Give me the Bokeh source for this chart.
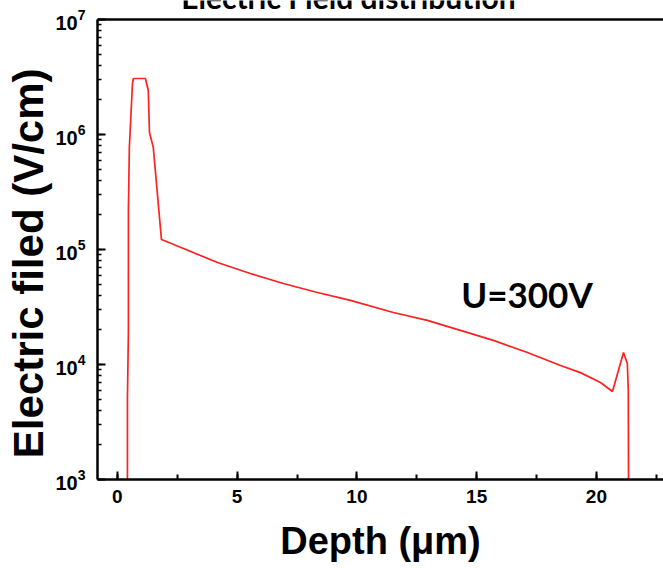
import math

from bokeh.embed import file_html
from bokeh.models import Label, Range1d, SingleIntervalTicker, LogTicker, Span
from bokeh.plotting import figure
from bokeh.resources import INLINE

# Electric field profile across the depth of the device at U = 300 V
depth_um = [0.42, 0.42, 0.46, 0.46, 0.50, 0.63, 0.67, 1.17, 1.29, 1.34, 1.50, 1.84,
            2.76, 4.18, 5.55, 6.93, 8.35, 9.73, 11.52, 12.94, 14.32, 15.70, 17.12,
            18.50, 19.33, 20.17, 20.67, 21.13, 21.29, 21.33, 21.34]
field_v_cm = [1.0e3, 5.0e3, 1.9e4, 2.18e5, 7.7e5, 2.77e6, 3.07e6, 3.07e6, 2.41e6, 1.04e6,
              7.7e5, 1.22e5, 1.02e5, 7.7e4, 6.18e4, 5.06e4, 4.23e4, 3.61e4, 2.83e4, 2.42e4,
              1.98e4, 1.62e4, 1.27e4, 9.8e3, 8.5e3, 6.97e3, 5.82e3, 1.27e4, 1.02e4, 6.0e3,
              1.0e3]

title_text = "Electric Field distribution"
x_title = "Depth (\u03bcm)"
y_title = "Electric filed (V/cm)"
voltage_note = "U=300V"

y_lo, y_hi = 1e3, 1e7

W, H = 663, 568
LEFT, BOTTOM = 97, 89
FRAME_H = H - BOTTOM
HEAD = 19  # pixels of empty frame kept above the top of the axes box
DECADE = (FRAME_H - HEAD) / math.log10(y_hi / y_lo)

p = figure(width=W, height=H, output_backend="svg", toolbar_location=None,
           y_axis_type="log",
           x_range=Range1d(-0.83, 22.8),
           y_range=Range1d(y_lo, y_hi * 10 ** (HEAD / DECADE)),
           min_border_left=LEFT, min_border_right=0,
           min_border_top=0, min_border_bottom=BOTTOM)
p.background_fill_color = "white"
p.border_fill_color = "white"
p.outline_line_color = None
p.xgrid.visible = False
p.ygrid.visible = False

tick_font = "Liberation Sans"

# bottom axis
xa = p.xaxis[0]
xa.ticker = SingleIntervalTicker(interval=5, num_minor_ticks=2)
xa.axis_line_width = 2.5
xa.axis_line_color = "black"
xa.major_tick_in = 8
xa.major_tick_out = 0
xa.minor_tick_in = 5
xa.minor_tick_out = 0
xa.major_tick_line_width = 2
xa.minor_tick_line_width = 2
xa.major_label_text_font = tick_font
xa.major_label_text_font_style = "bold"
xa.major_label_text_font_size = "19px"
xa.major_label_text_color = "black"
xa.major_label_standoff = 10
xa.axis_label = x_title
xa.axis_label_text_font = tick_font
xa.axis_label_text_font_style = "bold"
xa.axis_label_text_font_size = "38px"
xa.axis_label_text_color = "black"
xa.axis_label_standoff = 14

# left log axis, its line limited to the axes box
ya = p.yaxis[0]
ya.ticker = LogTicker(num_minor_ticks=10)
ya.bounds = (y_lo, y_hi)
ya.axis_line_width = 2.5
ya.axis_line_color = "black"
ya.major_tick_in = 8
ya.major_tick_out = 0
ya.minor_tick_in = 4
ya.minor_tick_out = 0
ya.major_tick_line_width = 2
ya.minor_tick_line_width = 1.5
ya.major_label_text_font = tick_font
ya.major_label_text_font_style = "bold"
ya.major_label_text_font_size = "20px"
ya.major_label_text_color = "black"
ya.major_label_standoff = 12
# trailing no-break spaces nudge the rotated label a little downward
ya.axis_label = y_title + "\u00a0" * 4
ya.axis_label_text_font = tick_font
ya.axis_label_text_font_style = "bold"
ya.axis_label_text_font_size = "42px"
ya.axis_label_text_color = "black"
ya.axis_label_standoff = 0

# top border of the axes box
p.add_layout(Span(location=y_hi, dimension="width", line_color="black", line_width=2.5))

p.line(depth_um, field_v_cm, line_color="#ff2020", line_width=1.7)

# heading runs off the top edge, screen offsets from the frame's bottom-left
p.add_layout(Label(x=348 - LEFT, y=FRAME_H + 3.7, x_units="screen", y_units="screen",
                   text=title_text, text_align="center", text_baseline="alphabetic",
                   text_font="Lato", text_font_style="bold", text_font_size="30px",
                   text_color="black"))

p.add_layout(Label(x=17.1, y=4.1e4, text=voltage_note, text_align="center",
                   text_baseline="middle", text_font="Lato", text_font_style="bold",
                   text_font_size="35px", text_color="black"))

open("out.html", "w").write(file_html(p, INLINE))
